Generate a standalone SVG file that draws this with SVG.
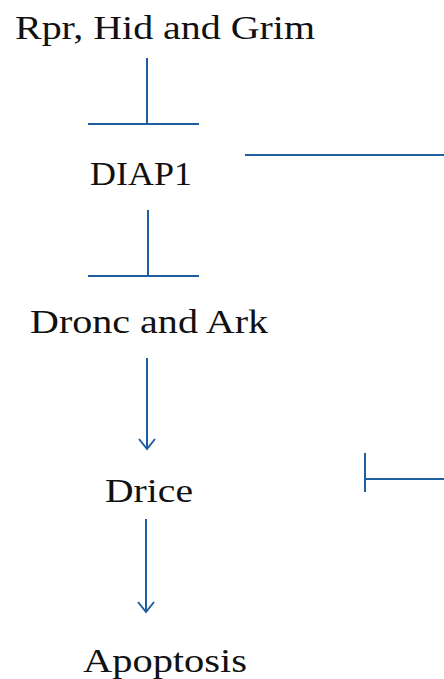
<svg xmlns="http://www.w3.org/2000/svg" width="444" height="679" viewBox="0 0 444 679">
<style>
text{font-family:"Liberation Serif","Times New Roman",serif;font-size:33px;fill:#111}
.c{stroke:#1f5fa0;stroke-width:2;fill:none}
</style>
<defs>
<marker id="arr" markerUnits="userSpaceOnUse" markerWidth="20" markerHeight="20" refX="11" refY="10" orient="auto" viewBox="0 0 20 20">
<path d="M1 2 L11 10 L1 18" fill="none" stroke="#1f5fa0" stroke-width="2"/>
</marker>
</defs>
<g id="n-rpr"><text x="15" y="39" textLength="300" lengthAdjust="spacingAndGlyphs">Rpr, Hid and Grim</text></g>
<g id="n-diap1"><text x="90" y="185" textLength="102" lengthAdjust="spacingAndGlyphs">DIAP1</text></g>
<g id="n-dronc"><text x="30" y="333" textLength="238" lengthAdjust="spacingAndGlyphs">Dronc and Ark</text></g>
<g id="n-drice"><text x="105" y="502" textLength="88" lengthAdjust="spacingAndGlyphs">Drice</text></g>
<g id="n-apop"><text x="83" y="672" textLength="164" lengthAdjust="spacingAndGlyphs">Apoptosis</text></g>
<g id="connectors" class="c">
<line x1="147" y1="58" x2="147" y2="124"/>
<line x1="88" y1="124" x2="199" y2="124"/>
<line x1="245" y1="155" x2="444" y2="155"/>
<line x1="148" y1="210" x2="148" y2="276"/>
<line x1="88" y1="276" x2="199" y2="276"/>
<line x1="147" y1="358" x2="147" y2="449" marker-end="url(#arr)"/>
<line x1="365" y1="453" x2="365" y2="492"/>
<line x1="365" y1="479" x2="444" y2="479"/>
<line x1="146" y1="519" x2="146" y2="612" marker-end="url(#arr)"/>
</g>
</svg>
